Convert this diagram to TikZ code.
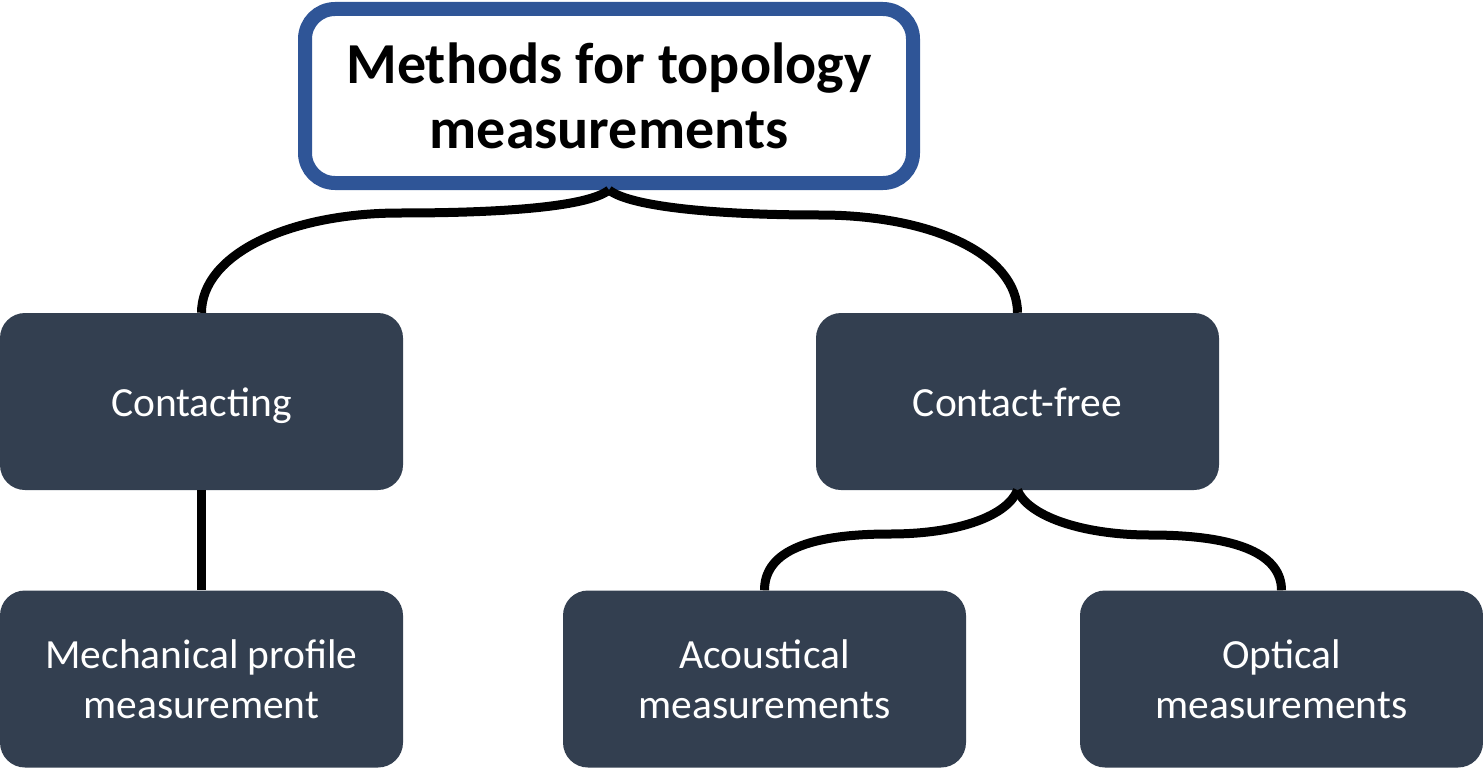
\documentclass[tikz,border=0pt]{standalone}
\usepackage{fontspec}
\setmainfont{Carlito}
\usetikzlibrary{positioning}
\definecolor{slate}{HTML}{333F50}
\definecolor{frameblue}{HTML}{2F5597}

\begin{document}
\begin{tikzpicture}[x=1pt, y=-1pt,
    topbox/.style={draw=frameblue, line width=14pt, fill=white, rounded corners=30pt,
        minimum width=608pt, minimum height=174pt, align=center,
        font=\fontsize{58}{65}\selectfont\bfseries},
    darkbox/.style={fill=slate, text=white, rounded corners=25pt,
        minimum width=403pt, minimum height=177pt, align=center,
        font=\fontsize{41.5}{50}\selectfont},
    onerow/.style={darkbox, text height=33pt, text depth=4pt},
    brace/.style={line width=9pt, line join=round}]
    \useasboundingbox (0,0) rectangle (1483,768);
    \node[topbox] (top) at (609,96) {Methods for topology\\measurements};
    \node[onerow] (contact) at (201.5,401.5) {Contacting};
    \node[onerow] (free) at (1017.5,401.5) {Contact-free};
    \node[darkbox] (mech) at (201.5,679) {Mechanical profile\\measurement};
    \node[darkbox] (acou) at (764.5,679) {Acoustical\\measurements};
    \node[darkbox] (opt) at (1281.5,679) {Optical\\measurements};
    \coordinate (b1) at (400,213);
    \coordinate (b2) at (820,215);
    \coordinate (b3) at (890,534);
    \coordinate (b4) at (1150,535);
    % brace under the title
    \draw[brace] (top.south) .. controls +(-20,16) and +(110,0) .. (b1)
        .. controls +(-112,0) and +(0,-58) .. (contact.north);
    \draw[brace] (top.south) .. controls +(20,16) and +(-110,0) .. (b2)
        .. controls +(112,0) and +(0,-58) .. (free.north);
    % brace under contact-free
    \draw[brace] (free.south) .. controls +(-10,25) and +(70,0) .. (b3)
        .. controls +(-90,0) and +(0,-35) .. (acou.north);
    \draw[brace] (free.south) .. controls +(10,25) and +(-70,0) .. (b4)
        .. controls +(90,0) and +(0,-35) .. (opt.north);
    \draw[brace] (contact.south) -- (mech.north);
\end{tikzpicture}
\end{document}
